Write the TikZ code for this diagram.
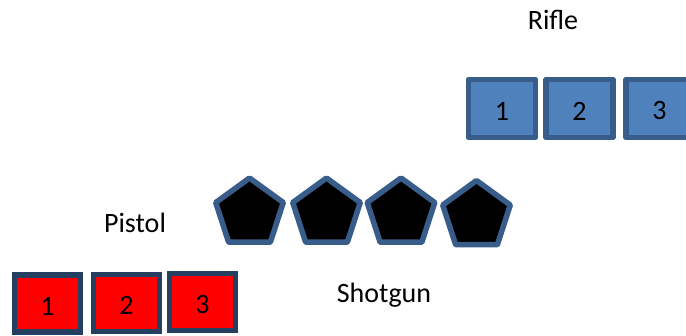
\documentclass[tikz,border=0pt]{standalone}
\usepackage{fontspec}
\setmainfont{Carlito}
\usetikzlibrary{shapes.geometric}
\definecolor{rifleline}{HTML}{385D8A}
\definecolor{riflefill}{HTML}{4F81BD}
\definecolor{pistolline}{HTML}{243F60}

\begin{document}
\begin{tikzpicture}[x=1pt,y=-1pt,join=round,font=\fontsize{28}{34}\selectfont,
        rifle/.style={draw=rifleline,fill=riflefill,line width=5.5pt,minimum width=67pt,
          minimum height=58pt,inner sep=0pt,text height=23pt},
        pistol/.style={draw=pistolline,fill=red,line width=5.5pt,line join=miter,minimum width=66pt,
          minimum height=57pt,inner sep=0pt,text height=23pt},
        shell/.style={regular polygon,regular polygon sides=5,draw=rifleline,fill=black,
          line width=5.5pt,minimum size=71pt,inner sep=0pt}]
        \useasboundingbox (0,0) rectangle (686,335);
        % rifle
        \node[rifle] (rifleA) at (502,108.5) {1};
        \node[rifle] (rifleB) at (579.5,108.5) {2};
        \node[rifle] (rifleC) at (659.5,108.5) {3};
        % shotgun
        \node[shell] (shotA) at (249.5,213.5) {};
        \node[shell] (shotB) at (326.5,213.5) {};
        \node[shell] (shotC) at (401,213.5) {};
        \node[shell] (shotD) at (476.5,216) {};
        % pistol
        \node[pistol] (pistolA) at (47.5,303.5) {1};
        \node[pistol] (pistolB) at (126.5,303) {2};
        \node[pistol] (pistolC) at (202.5,302) {3};
        \fill[black]
                (553,29) node [anchor=base] (lblRifle) {Rifle}
                (135,232) node [anchor=base] (lblPistol) {Pistol}
                (384,302) node [anchor=base] (lblShotgun) {Shotgun};
\end{tikzpicture}
\end{document}
